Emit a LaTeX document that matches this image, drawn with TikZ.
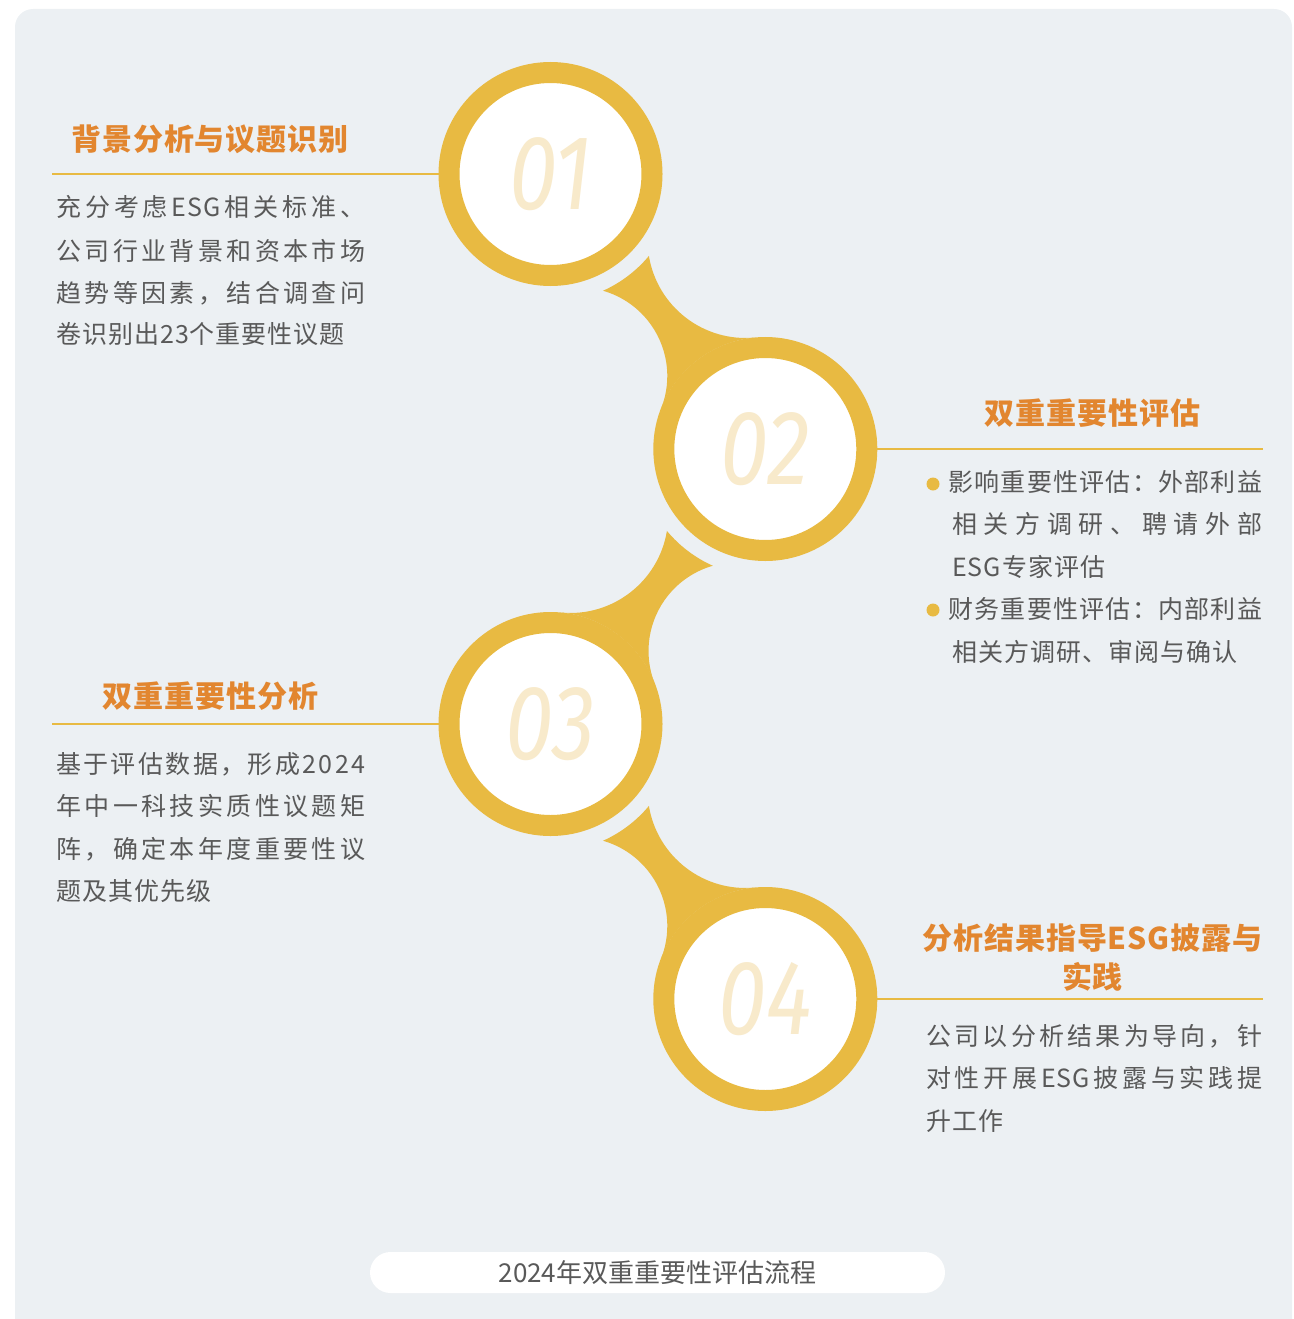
\documentclass[tikz,border=0pt]{standalone}
\usepackage{fontspec}
\newfontfamily\cjkbody{Noto Sans CJK SC}[LetterSpace=4]
\newfontfamily\cjktitle{Noto Sans CJK SC}[LetterSpace=3]
\newfontfamily\cjkplain{Noto Sans CJK SC}
\newfontfamily\numfont{Fira Sans}[FakeStretch=0.82]
\definecolor{bgc}{HTML}{ECF0F3}
\definecolor{gold}{HTML}{E8BA42}
\definecolor{ttlc}{HTML}{E2862F}
\definecolor{txtc}{HTML}{595959}
\definecolor{numc}{HTML}{F8EACB}
\makeatletter
\newcommand{\spreadtext}[2]{\makebox[#1][s]{\sprd@loop#2\@nil}}
\def\sprd@loop#1#2\@nil{#1\if\relax\detokenize{#2}\relax\else\hfil\sprd@loop#2\@nil\fi}
\makeatother
\tikzset{
  ring/.style={circle, draw=gold, line width=21pt, fill=white, minimum size=203pt, inner sep=0pt, text=numc, font=\numfont\itshape\fontsize{106pt}{106pt}\selectfont},
  rulel/.style={draw=gold, line width=2.5pt},
  ttl/.style={text=ttlc, inner sep=0pt, font=\cjktitle\bfseries\fontsize{30pt}{39pt}\selectfont},
  body/.style={text=txtc, inner sep=0pt, anchor=west, font=\cjkbody\fontsize{25pt}{25pt}\selectfont},
  dotb/.style={circle, fill=gold, minimum size=13pt, inner sep=0pt},
  pillbox/.style={fill=white, rounded corners=20.5pt, minimum width=575pt, minimum height=41pt, inner sep=0pt, text=txtc, font=\cjkplain\fontsize{26pt}{26pt}\selectfont},
  neckfill/.style={fill=gold}
}
\begin{document}
\begin{tikzpicture}[x=1pt,y=-1pt]
\useasboundingbox (0,0) rectangle (1293,1319);
\fill[bgc, rounded corners=18pt] (15,9) rectangle (1292,1350);
% connectors
\begin{scope}[shift={(550.5,174)}]
\path[neckfill] (52.44,116.79) arc[start angle=65.84,end angle=39.80,radius=128]
      arc[start angle=170.66,end angle=84.53,radius=97.95]
      arc[start angle=-95.47,end angle=-158.67,radius=112]
      arc[start angle=21.33,end angle=-74.0,radius=88.7] -- cycle;
\end{scope}
\begin{scope}[shift={(765.3,449)}, xscale=-1]
\path[neckfill] (52.44,116.79) arc[start angle=65.84,end angle=39.80,radius=128]
      arc[start angle=170.66,end angle=84.53,radius=97.95]
      arc[start angle=-95.47,end angle=-158.67,radius=112]
      arc[start angle=21.33,end angle=-74.0,radius=88.7] -- cycle;
\end{scope}
\begin{scope}[shift={(550.5,724)}]
\path[neckfill] (52.44,116.79) arc[start angle=65.84,end angle=39.80,radius=128]
      arc[start angle=170.66,end angle=84.53,radius=97.95]
      arc[start angle=-95.47,end angle=-158.67,radius=112]
      arc[start angle=21.33,end angle=-74.0,radius=88.7] -- cycle;
\end{scope}
% circles
\node[ring] (c1) at (550.5,174) {01};
\node[ring] (c2) at (765.3,449) {02};
\node[ring] (c3) at (550.5,724) {03};
\node[ring] (c4) at (765.3,999) {04};
% rules
\coordinate (r1) at (52,174); \draw[rulel] (r1) -- (c1.west);
\coordinate (r2) at (1263,449); \draw[rulel] (c2.east) -- (r2);
\coordinate (r3) at (52,724); \draw[rulel] (r3) -- (c3.west);
\coordinate (r4) at (1263,999); \draw[rulel] (c4.east) -- (r4);
% titles
\node[ttl] (h1) at (210,139) {背景分析与议题识别};
\node[ttl] (h2) at (1092.5,413) {双重重要性评估};
\node[ttl] (h3) at (210.5,696) {双重重要性分析};
\node[ttl, align=center] (h4) at (1092.5,957.5) {分析结果指导ESG披露与\\实践};
% block 1
\node[body] (a1) at (56,207) {\spreadtext{309pt}{充分考虑{ESG}相关标准、}};
\node[body] (a2) at (56,251) {\spreadtext{309pt}{公司行业背景和资本市场}};
\node[body] (a3) at (56,293) {\spreadtext{309pt}{趋势等因素，结合调查问}};
\node[body] (a4) at (56,334) {卷识别出23个重要性议题};
% block 2
\node[dotb] (d1) at (933,484) {};
\node[dotb] (d2) at (933,610) {};
\node[body] (b1) at (948,482) {\spreadtext{314pt}{影响重要性评估：外部利益}};
\node[body] (b2) at (952,524) {\spreadtext{310pt}{相关方调研、聘请外部}};
\node[body] (b3) at (952,566.5) {ESG专家评估};
\node[body] (b4) at (948,609) {\spreadtext{314pt}{财务重要性评估：内部利益}};
\node[body] (b5) at (952,652) {相关方调研、审阅与确认};
% block 3
\node[body] (e1) at (56,764) {\spreadtext{309pt}{基于评估数据，形成{2024}}};
\node[body] (e2) at (56,806) {\spreadtext{309pt}{年中一科技实质性议题矩}};
\node[body] (e3) at (56,849) {\spreadtext{309pt}{阵，确定本年度重要性议}};
\node[body] (e4) at (56,891) {题及其优先级};
% block 4
\node[body] (f1) at (926,1036) {\spreadtext{336pt}{公司以分析结果为导向，针}};
\node[body] (f2) at (926,1078) {\spreadtext{336pt}{对性开展{ESG}披露与实践提}};
\node[body] (f3) at (926,1121) {升工作};
% caption
\node[pillbox] (cap) at (657.5,1272.5) {2024年双重重要性评估流程};
\end{tikzpicture}
\end{document}
